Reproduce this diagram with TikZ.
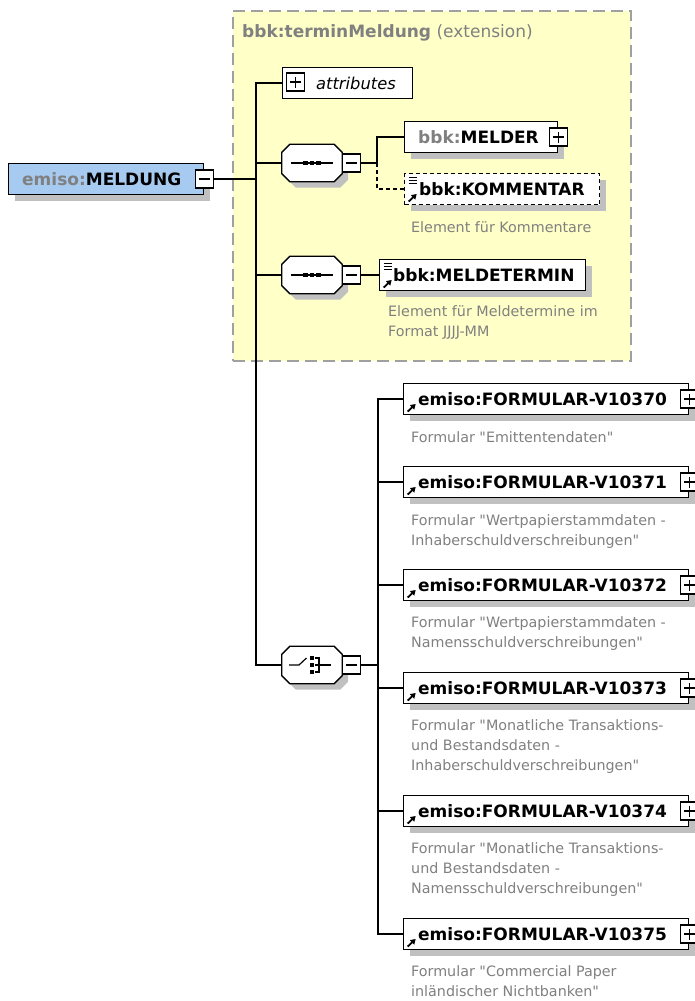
\documentclass[tikz,border=0pt]{standalone}
\usepackage{fontspec}
\setmainfont{DejaVu Sans}
\newfontfamily\dvq{DejaVu Sans}
\usetikzlibrary{shadows,arrows.meta}
\definecolor{yel}{RGB}{255,255,200}
\definecolor{ybord}{RGB}{160,160,160}
\definecolor{shad}{RGB}{192,192,192}
\definecolor{blu}{RGB}{166,202,240}
\definecolor{gtext}{RGB}{128,128,128}
\tikzset{
 conn/.style={line width=1.3pt},
 myshadow/.style={drop shadow={shadow xshift=6pt, shadow yshift=-6pt, fill=shad, opacity=1}},
 elem/.style={draw, line width=1.4pt, fill=white, minimum height=31pt, inner sep=0pt, anchor=west, myshadow},
 ename/.style={anchor=west, inner sep=0pt, font=\fontsize{17}{20}\selectfont\bfseries},
 desc/.style={anchor=base west, inner sep=0pt, align=left, text=gtext, font=\dvq\fontsize{14.3}{20}\selectfont},
 pmbox/.style={draw, line width=1.1pt, fill=white, minimum size=18pt, inner sep=0pt},
 plusbox/.style={pmbox, path picture={\draw[line width=1.1pt]
   ([xshift=-5.5pt]path picture bounding box.center) -- ([xshift=5.5pt]path picture bounding box.center)
   ([yshift=-5.5pt]path picture bounding box.center) -- ([yshift=5.5pt]path picture bounding box.center);}},
 minusbox/.style={pmbox, path picture={\draw[line width=1.1pt]
   ([xshift=-5.5pt]path picture bounding box.center) -- ([xshift=5.5pt]path picture bounding box.center);}},
 refmark/.style={path picture={\draw[solid, line width=1.8pt,-{Triangle[length=5pt,width=6pt]}]
   ([shift={(4pt,3pt)}]path picture bounding box.south west) -- ([shift={(12pt,10.5pt)}]path picture bounding box.south west);}},
 reftextmark/.style={path picture={\draw[solid, line width=1.8pt,-{Triangle[length=5pt,width=6pt]}]
   ([shift={(4pt,3pt)}]path picture bounding box.south west) -- ([shift={(12pt,10.5pt)}]path picture bounding box.south west);
   \draw[solid, line width=0.9pt]
   ([shift={(4pt,-4pt)}]path picture bounding box.north west) -- ([shift={(12pt,-4pt)}]path picture bounding box.north west)
   ([shift={(4pt,-7pt)}]path picture bounding box.north west) -- ([shift={(12pt,-7pt)}]path picture bounding box.north west)
   ([shift={(4pt,-10pt)}]path picture bounding box.north west) -- ([shift={(12pt,-10pt)}]path picture bounding box.north west);}},
 octnode/.style={minimum width=60pt, minimum height=37pt, inner sep=0pt},
}
\newcommand\octpath[1]{([xshift=8pt]#1.north west) -- ([xshift=-8pt]#1.north east) -- ([yshift=-8pt]#1.north east) -- ([yshift=8pt]#1.south east) -- ([xshift=-8pt]#1.south east) -- ([xshift=8pt]#1.south west) -- ([yshift=8pt]#1.south west) -- ([yshift=-8pt]#1.north west) -- cycle}
\newcommand\octdraw[1]{%
 \begin{scope}[transform canvas={shift={(6pt,-6pt)}}]\fill[shad] \octpath{#1};\end{scope}
 \draw[line width=1.3pt, fill=white] \octpath{#1};}
\newcommand\seqicon[1]{%
 \draw[line width=1.2pt] ([xshift=-21pt]#1.center) -- ([xshift=21pt]#1.center);
 \foreach \dx in {-6.5,0,6.5} \fill ([shift={(\dx pt-2.3pt,-2.3pt)}]#1.center) rectangle ([shift={(\dx pt+2.3pt,2.3pt)}]#1.center);}
\newcommand\choiceicon[1]{%
 \draw[line width=1.2pt] ([xshift=-23pt]#1.center) -- ([xshift=-13pt]#1.center) -- ([shift={(-5.5pt,7pt)}]#1.center);
 \foreach \dy in {-7,0,7} \fill ([shift={(-2pt,\dy pt-2.2pt)}]#1.center) rectangle ([shift={(2.4pt,\dy pt+2.2pt)}]#1.center);
 \draw[line width=1.2pt] ([shift={(3pt,7pt)}]#1.center) -- ([shift={(7pt,7pt)}]#1.center) -- ([shift={(7pt,-7pt)}]#1.center) -- ([shift={(3pt,-7pt)}]#1.center)
   ([shift={(3pt,0pt)}]#1.center) -- ([shift={(19pt,0pt)}]#1.center);}
\begin{document}
\begin{tikzpicture}[x=1pt,y=-1pt]
\useasboundingbox (0,0) rectangle (695,1001);
\fill[white] (0,0) rectangle (695,1001);

% extension frame
\node[draw=ybord, fill=yel, line width=1.5pt, dash pattern=on 12pt off 6pt, minimum width=398pt, minimum height=350pt, anchor=north west, inner sep=0pt] (ext) at (232,10) {};
\node[anchor=west, inner sep=0pt, text=gtext, font=\fontsize{17}{20}\selectfont] (title) at (242,33) {\textbf{bbk:terminMeldung} (extension)};

% root
\node[elem, fill=blu, minimum width=195pt] (meldung) at (8,179) {};
\node[ename] (meldungt) at (22,179) {\textcolor{gtext}{emiso:}MELDUNG};
\node[minusbox] (meldungm) at (meldung.east) {};
\coordinate (trunk) at (256,179);
\draw[conn] (meldungm.east) -- (trunk);

% attributes
\node[draw, line width=1.3pt, fill=white, minimum width=130pt, minimum height=31pt, anchor=west, inner sep=0pt] (attr) at (282,83) {};
\node[plusbox] (attrp) at (295.5,82) {};
\node[anchor=west, inner sep=0pt, font=\fontsize{16.3}{18}\selectfont\itshape] (attrt) at (316,83) {attributes};
\draw[conn] (attr.west) -| (trunk);

% sequence 1
\node[octnode] (seq1) at (312,163) {};
\octdraw{seq1}\seqicon{seq1}
\node[minusbox] (seq1m) at (351.5,163) {};
\draw[conn] (trunk) |- (seq1.west);
\coordinate (b1) at (377,163);
\draw[conn] (seq1m.east) -- (b1);
\node[elem, minimum width=153pt] (melder) at (404,137) {};
\node[ename] (meldert) at (418,137) {\textcolor{gtext}{bbk:}MELDER};
\node[plusbox] (melderp) at (melder.east) {};
\draw[conn] (b1) |- (melder.west);
\node[elem, dash pattern=on 4pt off 3pt, reftextmark, minimum width=195pt] (komm) at (404,189) {};
\node[ename] (kommt) at (419,189) {bbk:KOMMENTAR};
\draw[conn, dash pattern=on 4pt off 3pt] (b1) |- (komm.west);
\node[desc] (kommd) at (411,232) {Element für Kommentare};

% sequence 2
\node[octnode] (seq2) at (312,275) {};
\octdraw{seq2}\seqicon{seq2}
\node[minusbox] (seq2m) at (351.5,275) {};
\draw[conn] (trunk) |- (seq2.west);
\node[elem, reftextmark, minimum width=206pt] (mterm) at (379,275) {};
\node[ename] (mtermt) at (393,275) {bbk:MELDETERMIN};
\draw[conn] (seq2m.east) -- (mterm.west);
\node[desc] (mtermd) at (388,336) {Element für Meldetermine im\\Format JJJJ-MM};

% choice
\node[octnode] (choice) at (312,665) {};
\octdraw{choice}\choiceicon{choice}
\node[minusbox] (choicem) at (351.5,665) {};
\draw[conn] (trunk) |- (choice.west);
\coordinate (b2) at (378,665);
\draw[conn] (choicem.east) -- (b2);

\node[elem, refmark, minimum width=285pt] (f0) at (403,399) {};
\node[ename] (f0t) at (418,399) {emiso:FORMULAR-V10370};
\node[plusbox] (f0p) at (f0.east) {};
\node[desc] (f0d) at (411,442) {Formular "Emittentendaten"};

\node[elem, refmark, minimum width=285pt] (f1) at (403,482) {};
\node[ename] (f1t) at (418,482) {emiso:FORMULAR-V10371};
\node[plusbox] (f1p) at (f1.east) {};
\node[desc] (f1d) at (411,545) {Formular "Wertpapierstammdaten -\\Inhaberschuldverschreibungen"};

\node[elem, refmark, minimum width=285pt] (f2) at (403,585) {};
\node[ename] (f2t) at (418,585) {emiso:FORMULAR-V10372};
\node[plusbox] (f2p) at (f2.east) {};
\node[desc] (f2d) at (411,647) {Formular "Wertpapierstammdaten -\\Namensschuldverschreibungen"};

\node[elem, refmark, minimum width=285pt] (f3) at (403,688) {};
\node[ename] (f3t) at (418,688) {emiso:FORMULAR-V10373};
\node[plusbox] (f3p) at (f3.east) {};
\node[desc] (f3d) at (411,770) {Formular "Monatliche Transaktions-\\und Bestandsdaten -\\Inhaberschuldverschreibungen"};

\node[elem, refmark, minimum width=285pt] (f4) at (403,811) {};
\node[ename] (f4t) at (418,811) {emiso:FORMULAR-V10374};
\node[plusbox] (f4p) at (f4.east) {};
\node[desc] (f4d) at (411,893) {Formular "Monatliche Transaktions-\\und Bestandsdaten -\\Namensschuldverschreibungen"};

\node[elem, refmark, minimum width=285pt] (f5) at (403,934) {};
\node[ename] (f5t) at (418,934) {emiso:FORMULAR-V10375};
\node[plusbox] (f5p) at (f5.east) {};
\node[desc] (f5d) at (411,996) {Formular "Commercial Paper\\inländischer Nichtbanken"};

\foreach \n in {f0,f1,f2,f3,f4,f5} \draw[conn] (b2) |- (\n.west);
\end{tikzpicture}
\end{document}
